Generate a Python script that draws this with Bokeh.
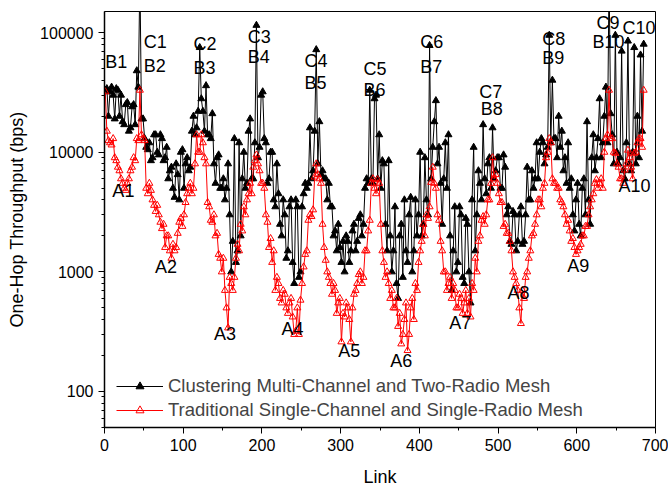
from bokeh.plotting import figure
from bokeh.models import Legend, LegendItem, FixedTicker, Range1d, PrintfTickFormatter, ColumnDataSource
from bokeh.embed import file_html
from bokeh.resources import INLINE
from bokeh.core.properties import value

FONT = "Liberation Sans"

# link index of each sampled link
links = list(range(1, 686, 2))

# Clustering Multi-Channel and Two-Radio Mesh (bps)
clustering = [
    33000, 34000, 20000, 32000, 35000, 30000, 19000, 34000, 33000, 20000, 30000, 18000, 17000, 25000, 26000, 15000, 16000, 24000, 25000, 17000,
    48000, 35000, 300000, 19000, 19000, 13000, 11000, 10500, 12000, 8500, 9000, 14000, 14000, 10000, 9500, 14000, 13000, 8500, 9000, 11000,
    6000, 7000, 7500, 5000, 4200, 8000, 6500, 4000, 10000, 10500, 5000, 8000, 9000, 7000, 7500, 15000, 20000, 14000, 16000, 22000,
    75000, 28000, 22000, 15000, 36000, 14000, 14000, 13000, 21000, 8000, 5500, 9000, 9500, 5000, 5000, 6000, 4000, 5000, 8000, 3000,
    1000, 1800, 13000, 1200, 1500, 12000, 2000, 6000, 10000, 5000, 5500, 15000, 19000, 6000, 6000, 12000, 115000, 9000, 11000, 30000,
    32000, 13000, 12000, 5500, 6000, 10000, 10000, 4000, 3500, 8000, 4500, 2500, 2000, 4000, 3000, 1300, 1500, 3500, 4000, 1200,
    800, 4000, 3500, 900, 1000, 3500, 4500, 5500, 5000, 5500, 16000, 6000, 7000, 15000, 72000, 8000, 18000, 6500, 7000, 6000,
    6000, 4000, 5500, 3500, 3500, 2000, 2200, 1500, 2500, 1600, 1200, 1800, 1000, 2000, 1800, 1200, 1500, 2200, 2500, 1500,
    1800, 2800, 3000, 2000, 2500, 5000, 6000, 5500, 33000, 6000, 5500, 28000, 30000, 6000, 14000, 5000, 8500, 8000, 2500, 1500,
    8500, 2000, 1000, 1500, 3500, 800, 600, 2000, 2500, 900, 4000, 1500, 1200, 3000, 4200, 1000, 1500, 4000, 2000, 3000,
    10000, 2000, 2500, 9000, 4000, 3000, 78000, 6000, 11000, 18000, 27000, 8000, 11000, 5500, 2500, 6000, 12000, 5000, 14000, 2000,
    700, 1500, 3500, 1000, 1200, 3500, 3000, 900, 800, 2800, 2500, 1000, 550, 4000, 11000, 1500, 3000, 7000, 5500, 4000,
    17000, 6000, 4500, 8000, 9000, 5000, 16000, 6000, 7000, 9000, 9000, 5000, 5000, 9500, 7500, 3000, 3500, 1800, 1700, 3200,
    3000, 1500, 1800, 3000, 3500, 1700, 1800, 3000, 7500, 4000, 4000, 7000, 5000, 6000, 12000, 6000, 10000, 13000, 12000, 8000,
    9500, 11000, 95000, 12000, 40000, 13000, 13000, 9000, 20000, 11000, 15000, 7000, 9000, 5500, 12000, 5000, 6000, 3000, 2200, 4000,
    5500, 2500, 2000, 5000, 6000, 3000, 18000, 4000, 2500, 9000, 14000, 7000, 9000, 13000, 28000, 9000, 12000, 20000, 35000, 12000,
    300000, 21000, 14000, 8000, 95000, 10000, 8000, 9000, 70000, 7000, 6000, 12000, 85000, 8000, 7000, 10000, 75000, 8000, 20000, 9000,
    65000, 15000, 80000,
]

# Traditional Single-Channel and Single-Radio Mesh (bps)
traditional = [
    32000, 15000, 12500, 12000, 11500, 13000, 9000, 8500, 7500, 7000, 6000, 5500, 5000, 4800, 5500, 6000, 7000, 7500, 9000, 8500,
    13000, 12500, 33000, 14000, 13000, 12500, 5000, 4500, 5500, 4800, 4000, 3600, 3200, 3600, 3000, 2600, 2300, 2500, 1600, 2000,
    2000, 1500, 1300, 1700, 1500, 1600, 2100, 2600, 2800, 2400, 3000, 3800, 4500, 5000, 5500, 4500, 5000, 8000, 14000, 10000,
    10000, 14000, 12000, 9000, 8000, 3800, 3500, 2700, 2600, 3000, 2000, 2100, 1400, 1300, 1000, 1300, 700, 500, 340, 900,
    800, 700, 900, 1300, 1700, 1500, 2500, 2200, 3500, 3000, 4000, 4500, 5500, 4500, 7500, 8500, 9500, 8000, 7000, 5500,
    5500, 5000, 3000, 2600, 1600, 1900, 1200, 1500, 700, 900, 800, 600, 550, 700, 650, 500, 450, 550, 600, 420,
    300, 320, 500, 300, 580, 800, 1100, 1400, 1500, 2700, 3000, 2900, 3300, 6200, 8000, 6500, 6000, 5500, 2500, 1600,
    1250, 1000, 900, 800, 650, 800, 700, 450, 550, 600, 260, 450, 420, 550, 500, 400, 260, 500, 650, 700,
    800, 950, 1000, 800, 900, 1500, 1500, 2200, 2700, 5500, 6000, 5000, 4500, 5900, 5500, 2500, 1500, 1200, 900, 1000,
    800, 600, 700, 500, 500, 600, 350, 450, 250, 300, 400, 550, 220, 300, 500, 600, 400, 800, 700, 1200,
    1500, 1800, 2500, 2000, 3000, 2800, 3500, 5600, 7500, 5500, 5000, 3000, 2700, 1800, 1500, 1000, 1000, 700, 800, 900,
    600, 800, 700, 500, 500, 650, 600, 450, 550, 700, 450, 600, 420, 800, 700, 1300, 1000, 1800, 2000, 2700,
    2900, 2500, 3000, 4000, 4000, 5500, 9000, 6000, 6500, 5500, 4500, 3800, 3800, 2400, 2500, 2100, 2100, 1800, 1500, 1000,
    900, 800, 700, 500, 370, 700, 600, 900, 1000, 1300, 1500, 2000, 2100, 2500, 3000, 4000, 4000, 3500, 5000, 5500,
    9000, 10000, 13000, 12000, 6000, 5500, 5500, 5000, 5000, 4000, 3800, 3500, 3000, 2500, 2700, 2200, 1800, 1900, 1600, 1400,
    1500, 1600, 1700, 2000, 2000, 2400, 2400, 3000, 3500, 4000, 4500, 5500, 5900, 5000, 5500, 6000, 5000, 10000, 13000, 14000,
    33000, 13000, 13000, 10000, 9800, 8000, 7500, 6000, 6000, 5500, 7100, 8000, 10400, 9000, 7500, 6000, 9800, 10000, 12000, 13000,
    13000, 11000, 33000,
]

# annotation labels
label_text = ["B1", "C1", "B2", "C2", "B3", "C3", "B4", "C4", "B5", "C5", "B6",
              "C6", "B7", "C7", "B8", "C8", "B9", "C9", "B10", "C10",
              "A1", "A2", "A3", "A4", "A5", "A6", "A7", "A8", "A9", "A10"]
label_x = [1, 50, 50, 113, 113, 182, 182, 254, 254, 329, 329,
           401, 401, 476, 478, 556, 556, 625, 620, 658,
           10, 64, 139, 225, 297, 363, 438, 512, 588, 653]
label_y = [57000, 84000, 53000, 80000, 51000, 92000, 63000, 58000, 38000, 50000, 33000,
           84000, 52000, 32000, 23000, 89000, 61000, 120000, 84000, 110000,
           4700, 1100, 300, 330, 220, 180, 375, 670, 1120, 5200]

p = figure(width=668, height=489, y_axis_type="log",
           x_range=Range1d(0, 700), y_range=Range1d(50, 150000),
           output_backend="svg", toolbar_location=None,
           min_border_left=104, min_border_right=13, min_border_top=11, min_border_bottom=62,
           background_fill_color="white", border_fill_color="white")

bl = p.line(links, clustering, line_color="black", line_width=1)
bs = p.scatter(links, clustering, marker="triangle", size=7, fill_color="black", line_color="black")
rl = p.line(links, traditional, line_color="red", line_width=1)
rs = p.scatter(links, traditional, marker="triangle", size=7, fill_color=None, line_color="red", line_width=1)

src = ColumnDataSource(dict(x=label_x, y=label_y, t=label_text))
p.text(x="x", y="y", text="t", source=src, text_font=value(FONT), text_font_size="18px",
       text_align="left", text_baseline="middle", text_color="black")

legend = Legend(items=[
    LegendItem(label="Clustering Multi-Channel and Two-Radio Mesh", renderers=[bl, bs]),
    LegendItem(label="Traditional Single-Channel and Single-Radio Mesh", renderers=[rl, rs]),
], location=(12, 6), border_line_color=None, background_fill_alpha=0,
    label_text_font=FONT, label_text_font_size="18.5px", glyph_width=47,
    spacing=2, padding=0, margin=0)
p.add_layout(legend)

p.xgrid.grid_line_color = None
p.ygrid.grid_line_color = None
p.outline_line_color = "black"
p.outline_line_width = 1

p.xaxis.ticker = FixedTicker(ticks=[0, 100, 200, 300, 400, 500, 600, 700],
                             minor_ticks=[50, 150, 250, 350, 450, 550, 650])
minor_y = [m * 10 ** k for k in range(1, 6) for m in range(2, 10)]
p.yaxis.ticker = FixedTicker(ticks=[100, 1000, 10000, 100000], minor_ticks=minor_y)
p.yaxis.formatter = PrintfTickFormatter(format="%d")

for ax in (p.xaxis[0], p.yaxis[0]):
    ax.axis_line_width = 1.5
    ax.axis_line_color = "black"
    ax.major_tick_out = 6
    ax.major_tick_in = 0
    ax.minor_tick_out = 3
    ax.minor_tick_in = 0
    ax.major_tick_line_color = "black"
    ax.minor_tick_line_color = "black"
    ax.major_label_text_font = FONT
    ax.major_label_text_font_size = "16px"
    ax.major_label_text_color = "black"
    ax.axis_label_text_font = FONT
    ax.axis_label_text_font_style = "normal"
    ax.axis_label_text_color = "black"
    ax.axis_label_text_font_size = "18px"

p.xaxis.axis_label = "Link"
p.yaxis.axis_label = "One-Hop Throughput (bps)"
p.xaxis.axis_label_standoff = 13
p.yaxis.axis_label_standoff = 10

open("out.html", "w").write(file_html(p, INLINE))
